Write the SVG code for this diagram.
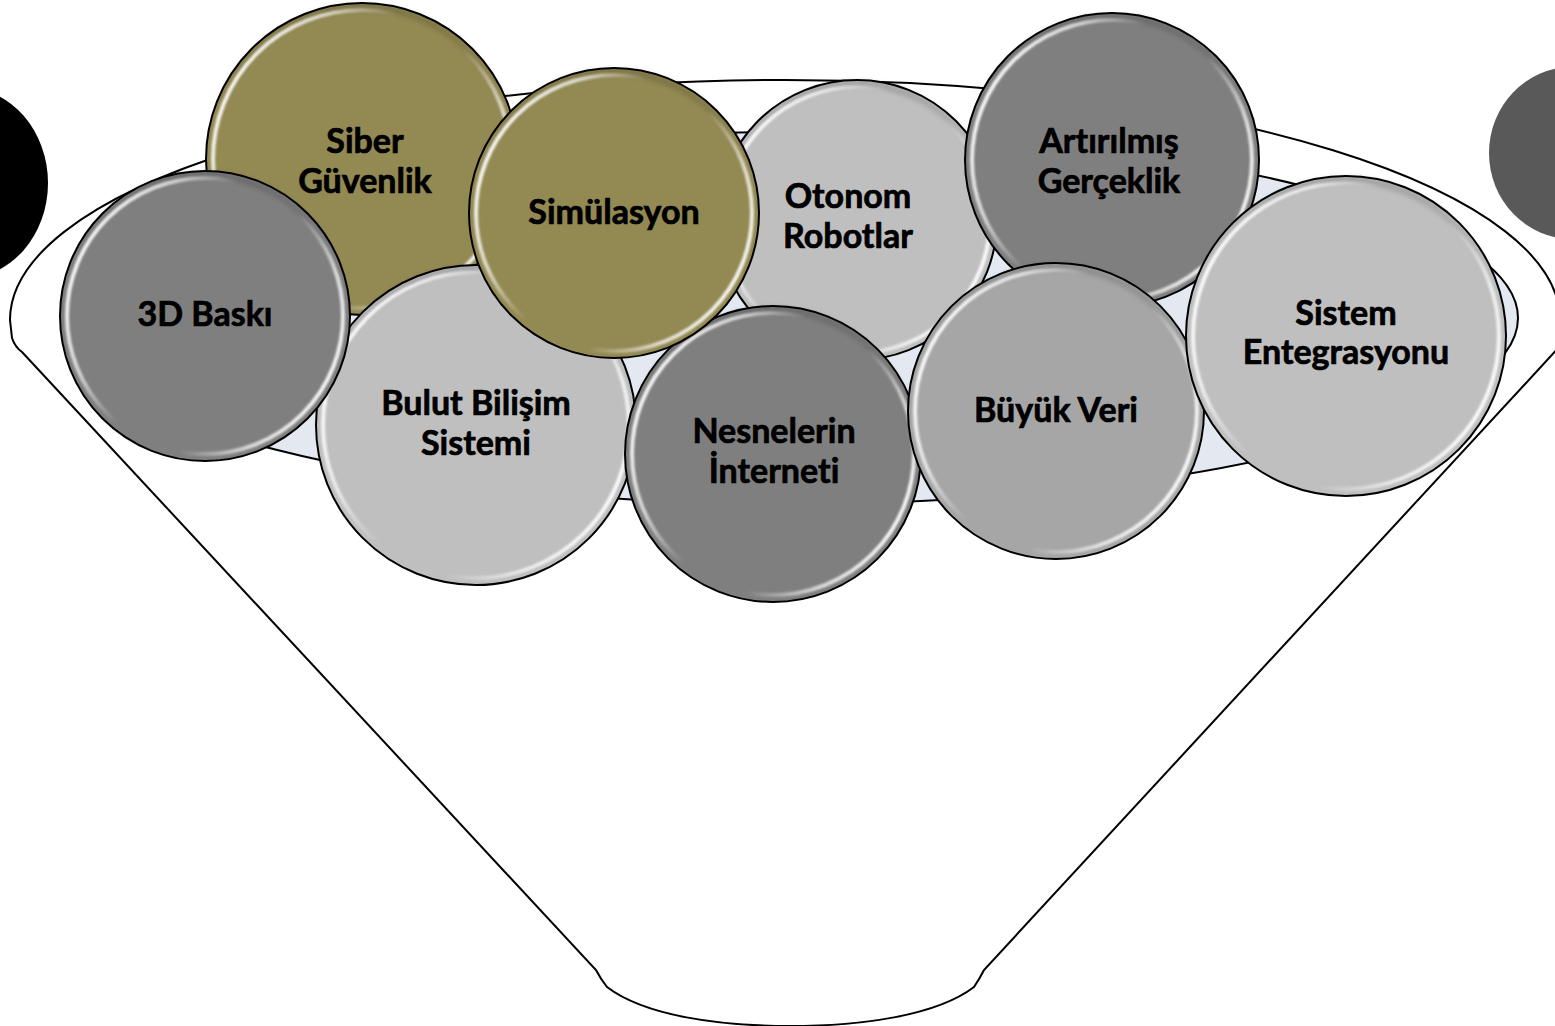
<svg xmlns="http://www.w3.org/2000/svg" width="1555" height="1026" viewBox="0 0 1555 1026">
<style>
.ring{stroke:#000;stroke-width:2}
.olive{fill:#938953}
.light{fill:#bfbfbf}
.mid{fill:#7f7f7f}
.med{fill:#a6a6a6}
.gloss{fill:none;stroke:url(#gl);stroke-width:4;filter:url(#bl)}
.shade{fill:none;stroke:url(#sh);stroke-width:6;filter:url(#bl2)}
.lbl{font-family:Lato,"Open Sans","Liberation Sans",sans-serif;font-weight:700;font-size:34px;fill:#000;stroke:#000;stroke-width:0.7;text-anchor:middle;font-variant-ligatures:none;font-feature-settings:"liga" 0}
.outline{fill:#fff;stroke:#000;stroke-width:2}
</style>
<defs>
<linearGradient id="gl" x1="0" y1="0.25" x2="1" y2="0.75">
<stop offset="0" stop-color="#fff" stop-opacity="1"/>
<stop offset="0.22" stop-color="#fff" stop-opacity="0.65"/>
<stop offset="0.4" stop-color="#fff" stop-opacity="0"/>
<stop offset="0.62" stop-color="#fff" stop-opacity="0"/>
<stop offset="0.82" stop-color="#fff" stop-opacity="0.7"/>
<stop offset="1" stop-color="#fff" stop-opacity="1"/>
</linearGradient>
<linearGradient id="sh" x1="0" y1="0" x2="0" y2="1">
<stop offset="0" stop-color="#000" stop-opacity="0.18"/>
<stop offset="0.35" stop-color="#000" stop-opacity="0"/>
<stop offset="1" stop-color="#000" stop-opacity="0"/>
</linearGradient>
<filter id="bl" x="-10%" y="-10%" width="120%" height="120%"><feGaussianBlur stdDeviation="1.1"/></filter>
<filter id="bl2" x="-10%" y="-10%" width="120%" height="120%"><feGaussianBlur stdDeviation="2.5"/></filter>
</defs>
<rect width="1555" height="1026" fill="#fff"/>
<g id="decor">
<ellipse cx="-35" cy="183" rx="83" ry="95" fill="#000"/>
<ellipse cx="1572" cy="153" rx="83" ry="86" fill="#595959"/>
</g>
<g id="funnel">
<path class="outline" d="M 22,352 L 596,970 Q 600,978 607,987 C 645,1016 720,1026 790,1026 C 860,1026 936,1016 974,987 Q 980,978 984,970 L 1562,344 L 1560,320 A 775 240 0 0 0 10,320 L 12,338 Q 15,347 22,352 Z"/>
<ellipse cx="790" cy="318" rx="728" ry="186" fill="#e3e8f1" stroke="#000" stroke-width="2"/>
</g>
<g id="connectors"></g>
<g id="node-siber">
<circle class="ring olive" cx="362" cy="159" r="156"/>
<circle class="shade" cx="362" cy="159" r="152"/>
<circle class="gloss" cx="362" cy="159" r="149"/>
<text class="lbl" x="365" y="153">Siber</text>
<text class="lbl" x="365" y="193">Güvenlik</text>
</g>
<g id="node-bulut">
<circle class="ring light" cx="476" cy="425" r="160"/>
<circle class="shade" cx="476" cy="425" r="156"/>
<circle class="gloss" cx="476" cy="425" r="153"/>
<text class="lbl" x="476" y="415">Bulut Bilişim</text>
<text class="lbl" x="476" y="455">Sistemi</text>
</g>
<g id="node-baski">
<circle class="ring mid" cx="205" cy="316" r="145"/>
<circle class="shade" cx="205" cy="316" r="141"/>
<circle class="gloss" cx="205" cy="316" r="138"/>
<text class="lbl" x="205" y="326">3D Baskı</text>
</g>
<g id="node-otonom">
<circle class="ring light" cx="857" cy="220" r="140"/>
<circle class="shade" cx="857" cy="220" r="136"/>
<circle class="gloss" cx="857" cy="220" r="133"/>
<text class="lbl" x="848" y="208">Otonom</text>
<text class="lbl" x="848" y="248">Robotlar</text>
</g>
<g id="node-artirilmis">
<circle class="ring mid" cx="1112" cy="160" r="147"/>
<circle class="shade" cx="1112" cy="160" r="143"/>
<circle class="gloss" cx="1112" cy="160" r="140"/>
<text class="lbl" x="1109" y="153">Artırılmış</text>
<text class="lbl" x="1109" y="193">Gerçeklik</text>
</g>
<g id="node-nesnelerin">
<circle class="ring mid" cx="773" cy="454" r="148"/>
<circle class="shade" cx="773" cy="454" r="144"/>
<circle class="gloss" cx="773" cy="454" r="141"/>
<text class="lbl" x="774" y="443">Nesnelerin</text>
<text class="lbl" x="774" y="483">İnterneti</text>
</g>
<g id="node-simulasyon">
<circle class="ring olive" cx="614" cy="213" r="145"/>
<circle class="shade" cx="614" cy="213" r="141"/>
<circle class="gloss" cx="614" cy="213" r="138"/>
<text class="lbl" x="614" y="224">Simülasyon</text>
</g>
<g id="node-buyuk">
<circle class="ring med" cx="1056" cy="411" r="148"/>
<circle class="shade" cx="1056" cy="411" r="144"/>
<circle class="gloss" cx="1056" cy="411" r="141"/>
<text class="lbl" x="1056" y="422">Büyük Veri</text>
</g>
<g id="node-sistem">
<circle class="ring light" cx="1346" cy="336" r="160"/>
<circle class="shade" cx="1346" cy="336" r="156"/>
<circle class="gloss" cx="1346" cy="336" r="153"/>
<text class="lbl" x="1346" y="325">Sistem</text>
<text class="lbl" x="1346" y="364">Entegrasyonu</text>
</g>
</svg>
